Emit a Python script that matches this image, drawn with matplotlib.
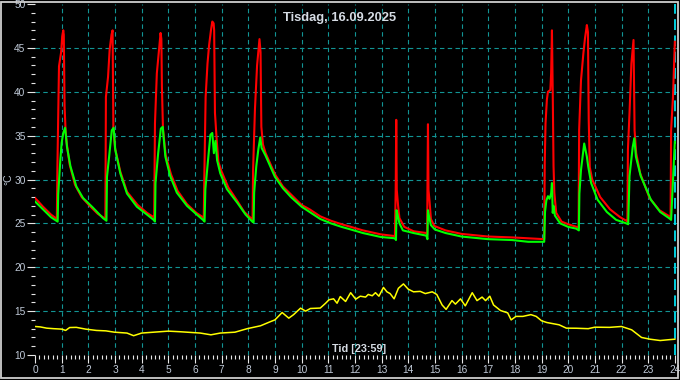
import matplotlib
matplotlib.use("Agg")
import matplotlib.pyplot as plt
from matplotlib.patches import Rectangle
import numpy as np

title = "Tisdag, 16.09.2025"
xlabel = "Tid [23:59]"
ylabel = "°C"
hour_ticks = list(range(0, 25))
temp_ticks = list(range(10, 51, 5))

# red series (hour, °C)
red_t = [0.0, 0.3, 0.6, 0.82, 0.84, 0.9, 0.98, 1.02, 1.06, 1.08, 1.11, 1.15, 1.2, 1.3, 1.5, 1.75, 2.05, 2.35, 2.6,
         2.64, 2.66, 2.74, 2.8, 2.87, 2.91, 2.94, 3.0, 3.2, 3.45, 3.85, 4.2, 4.45,
         4.47, 4.5, 4.57, 4.65, 4.71, 4.74, 4.76, 4.8, 4.9, 5.1, 5.35, 5.7, 6.05, 6.3,
         6.33, 6.35, 6.4, 6.47, 6.53, 6.6, 6.65, 6.7, 6.72, 6.75, 6.82, 6.88, 7.0, 7.25, 7.6, 7.85, 8.1,
         8.16, 8.18, 8.25, 8.33, 8.42, 8.46, 8.49, 8.55, 8.65, 9.0, 9.3, 9.6, 10.0, 10.3, 10.7, 11.1, 11.5, 11.85, 12.3, 12.97, 13.5,
         13.53, 13.55, 13.57, 13.62, 13.67, 13.85, 14.2, 14.68, 14.71, 14.72, 14.74, 14.76, 14.8, 14.85, 14.98, 15.4, 16.0, 17.0, 17.9, 19.1,
         19.12, 19.15, 19.2, 19.24, 19.33, 19.36, 19.39, 19.42, 19.45, 19.48, 19.55, 19.75, 20.0, 20.32,
         20.39, 20.41, 20.48, 20.57, 20.63, 20.7, 20.74, 20.77, 20.81, 20.9, 21.2, 21.57, 21.95, 22.18,
         22.22, 22.24, 22.3, 22.37, 22.45, 22.49, 22.55, 22.7, 23.05, 23.42, 23.8,
         23.84, 23.86, 23.93, 23.97, 24.0]
red_v = [27.9, 26.9, 26.0, 25.5, 31.3, 42.9, 44.5, 46.3, 47.0, 46.5, 38.3, 35.4, 33.9, 31.7, 29.4, 28.0, 27.0, 26.1, 25.6,
         25.5, 39.4, 41.7, 44.8, 46.5, 47.0, 35.8, 33.6, 30.9, 28.6, 27.1, 26.2, 25.7,
         25.5, 36.4, 42.1, 44.8, 46.7, 46.0, 40.6, 35.8, 32.8, 30.6, 28.7, 27.2, 26.2, 25.7,
         25.5, 30.0, 39.4, 43.2, 45.3, 47.0, 48.0, 47.8, 47.0, 37.6, 34.3, 32.0, 30.9, 29.1, 27.5, 26.3, 25.6,
         25.4, 31.0, 38.0, 43.0, 46.0, 44.5, 36.0, 34.0, 33.0, 30.6, 29.2, 28.3, 27.1, 26.6, 25.8, 25.3, 24.9, 24.6, 24.2, 23.75, 23.55,
         29.0, 36.8, 28.8, 27.0, 25.6, 24.6, 24.1, 23.9, 23.7, 28.8, 36.3, 28.8, 27.5, 25.5, 24.7, 24.2, 23.8, 23.5, 23.4, 23.2,
         31.9, 36.4, 39.1, 40.0, 40.2, 42.1, 47.0, 39.9, 31.5, 28.5, 26.2, 25.2, 24.9, 24.6,
         24.5, 35.6, 41.3, 44.4, 46.1, 47.6, 46.8, 36.8, 31.4, 30.0, 28.0, 26.6, 25.7, 25.3,
         25.2, 33.4, 37.6, 43.2, 45.9, 35.6, 33.0, 30.7, 27.9, 26.5, 25.8,
         25.6, 35.6, 39.4, 43.2, 45.7]

# green series (hour, °C)
green_t = [0.0, 0.3, 0.6, 0.85, 0.87, 0.95, 1.0, 1.06, 1.13, 1.2, 1.33, 1.55, 1.8, 2.17, 2.55, 2.68,
           2.7, 2.78, 2.88, 2.95, 3.01, 3.2, 3.45, 3.82, 4.2, 4.45, 4.5,
           4.52, 4.62, 4.72, 4.79, 4.89, 5.07, 5.32, 5.7, 6.07, 6.3, 6.36,
           6.39, 6.49, 6.58, 6.65, 6.71, 6.77, 6.83, 6.95, 7.2, 7.6, 7.9, 8.15, 8.2,
           8.22, 8.3, 8.38, 8.45, 8.5, 8.65, 9.0, 9.3, 9.6, 10.0, 10.3, 10.7, 11.1, 11.5, 11.85, 12.3, 12.97, 13.5, 13.54,
           13.56, 13.6, 13.67, 13.8, 14.2, 14.68, 14.72,
           14.74, 14.78, 14.85, 15.0, 15.4, 16.0, 17.0, 17.9, 18.5, 19.1,
           19.13, 19.18, 19.24, 19.3, 19.36, 19.39, 19.42, 19.45, 19.5, 19.7, 20.0, 20.3, 20.4,
           20.42, 20.48, 20.6, 20.7, 20.75, 20.86, 21.1, 21.45, 21.8, 22.18, 22.25,
           22.3, 22.42, 22.48, 22.54, 22.72, 23.1, 23.45, 23.78, 23.86,
           23.89, 23.96, 24.0]
green_v = [27.5, 26.6, 25.7, 25.2, 28.3, 32.2, 34.2, 35.3, 35.9, 33.7, 31.5, 29.2, 27.9, 26.8, 25.6, 25.3,
           30.3, 32.6, 35.6, 35.9, 33.4, 30.7, 28.4, 26.9, 26.0, 25.4, 25.2,
           29.6, 33.0, 35.8, 36.0, 32.6, 30.4, 28.5, 27.0, 26.0, 25.4, 25.2,
           28.9, 32.2, 35.1, 35.3, 33.0, 34.4, 32.2, 30.7, 28.9, 27.3, 26.0, 25.2, 25.1,
           28.5, 31.5, 33.5, 34.8, 33.6, 32.7, 30.3, 29.0, 28.0, 26.9, 26.3, 25.5, 25.0, 24.6, 24.3, 23.9, 23.45, 23.3, 23.1,
           26.5, 26.0, 25.0, 24.2, 23.9, 23.6, 23.2,
           26.5, 25.8, 24.8, 24.3, 23.9, 23.5, 23.2, 23.1, 22.9, 22.9,
           26.3, 27.6, 28.1, 27.8, 28.4, 29.6, 26.2, 27.0, 25.9, 25.0, 24.6, 24.4, 24.2,
           28.4, 31.1, 34.1, 32.6, 31.5, 29.6, 27.7, 26.3, 25.4, 25.0, 24.9,
           30.4, 33.7, 34.7, 32.6, 30.4, 27.7, 26.3, 25.6, 25.4,
           27.3, 31.8, 34.3]

# yellow series (hour, °C)
yellow_t = [0.0, 0.2, 0.44, 0.7, 1.0, 1.15, 1.3, 1.55, 1.9, 2.3, 2.66, 2.98, 3.45, 3.7, 4.0, 4.45, 5.0, 5.45, 6.2,
            6.6, 6.95, 7.5, 7.96, 8.46, 8.83, 9.0, 9.27, 9.52, 9.7, 9.96, 10.15, 10.33, 10.7, 10.9, 11.03, 11.2,
            11.33, 11.45, 11.65, 11.84, 12.03, 12.2, 12.4, 12.5, 12.65, 12.77, 12.9, 13.07, 13.2, 13.32, 13.47,
            13.63, 13.82, 14.0, 14.2, 14.45, 14.64, 14.9, 15.07, 15.27, 15.42, 15.64, 15.77, 15.96, 16.14, 16.4,
            16.58, 16.77, 16.9, 17.06, 17.2, 17.46, 17.73, 17.86, 18.04, 18.3, 18.6, 18.8, 19.0, 19.2, 19.66,
            19.93, 20.3, 20.75, 21.0, 21.55, 22.0, 22.38, 22.75, 23.07, 23.45, 23.8, 24.0]
yellow_v = [13.25, 13.2, 13.06, 13.0, 12.95, 12.8, 13.13, 13.15, 12.95, 12.8, 12.75, 12.6, 12.5, 12.2, 12.5, 12.6, 12.72, 12.65, 12.5,
            12.3, 12.5, 12.6, 13.0, 13.33, 13.8, 14.0, 14.84, 14.2, 14.6, 15.34, 15.0, 15.3, 15.35, 15.9, 16.3, 16.4,
            15.9, 16.66, 16.1, 17.1, 16.36, 16.7, 16.6, 16.9, 16.75, 17.1, 16.7, 17.7, 17.2, 17.0, 16.4,
            17.6, 18.1, 17.5, 17.2, 17.25, 17.0, 17.2, 16.9, 15.7, 15.2, 16.2, 15.8, 16.4, 15.6, 17.1,
            16.2, 16.6, 16.2, 16.7, 15.7, 15.07, 14.8, 14.0, 14.4, 14.4, 14.6, 14.4, 13.9, 13.7, 13.44,
            13.06, 13.05, 13.0, 13.17, 13.15, 13.25, 12.87, 12.0, 11.8, 11.65, 11.75, 11.8]

W, H = 680, 380
fig = plt.figure(figsize=(W / 100, H / 100), dpi=100, facecolor="black")
px = 26.66
ax = fig.add_axes([35 / W, 25 / H, 24.1 * px / W, 351 / H], facecolor="black")
ax.set_xlim(0, 24.1)
ax.set_ylim(10, 50)

grid_c = "#129494"
for v in temp_ticks[1:-1]:
    ax.axhline(v, color=grid_c, lw=0.8, ls=(0, (4, 3)), zorder=1)
for h in hour_ticks[1:-1]:
    ax.axvline(h, color=grid_c, lw=0.8, ls=(0, (4, 3)), zorder=1)
ax.axvline(24, color="#00e0f0", lw=1.3, ls=(0, (6, 3)), zorder=1)

ax.plot(yellow_t, yellow_v, color="#ffff00", lw=1.1, zorder=3)
ax.plot(red_t, red_v, color="#ff0000", lw=1.5, zorder=3)
ax.plot(green_t, green_v, color="#00ff00", lw=1.5, zorder=4)

for s in ax.spines.values():
    s.set_visible(False)

ax.set_xticks(hour_ticks)
ax.set_xticks(np.arange(0, 24.01, 1 / 6), minor=True)
ax.set_yticks(temp_ticks)
ax.set_yticks(range(10, 51), minor=True)
lab_c = "#c0cad8"
ax.tick_params(axis="both", which="major", color="#e6e6e6", width=0.8, length=5.8,
               labelcolor=lab_c, labelsize=7.3, direction="out")
ax.tick_params(axis="both", which="minor", color="#e6e6e6", width=0.8, length=2.9, direction="out")
ax.tick_params(axis="y", which="major", pad=1)
ax.tick_params(axis="x", which="major", pad=1.5)
for lbl in ax.get_xticklabels() + ax.get_yticklabels():
    lbl.set_fontfamily("Liberation Sans")

fig.text(340 / W, 1 - 18 / H, title, ha="center", va="center", color="#d6dce4",
         fontsize=9.3, fontweight="bold", family="Liberation Sans")
fig.text(359 / W, 1 - 349 / H, xlabel, ha="center", va="center", color="#d6dce4",
         fontsize=7.8, fontweight="bold", family="Liberation Sans")
fig.text(8 / W, 1 - 179 / H, ylabel, ha="center", va="center", color=lab_c,
         fontsize=7.5, rotation=90, family="Liberation Sans")

fig.patches.append(Rectangle((1 / W, 2.5 / H), 677 / W, 376 / H, transform=fig.transFigure,
                             fill=False, edgecolor="#cfcfcf", lw=1.3))

fig.savefig("out.png", dpi=100, facecolor="black")
